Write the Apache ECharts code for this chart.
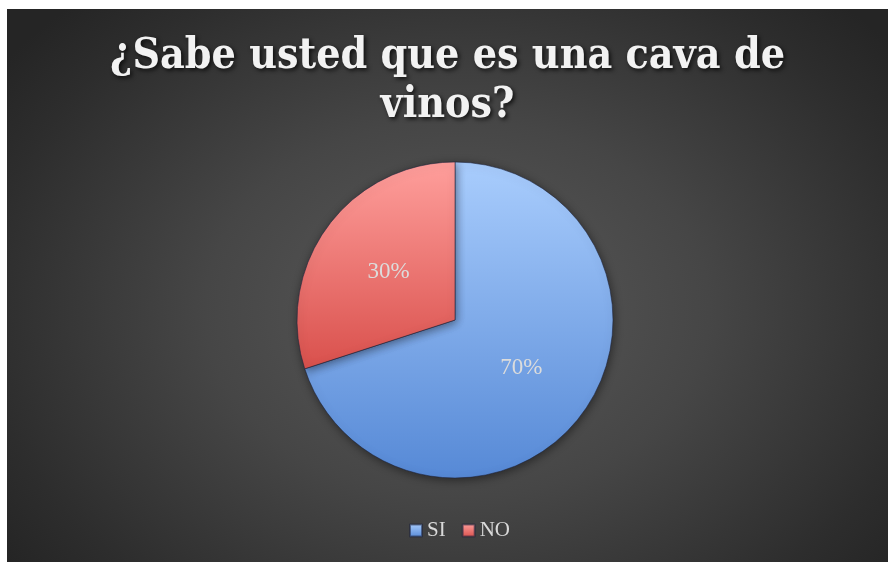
<!DOCTYPE html>
<html>
<head>
<meta charset="utf-8">
<script src="https://cdn.jsdelivr.net/npm/echarts@6/dist/echarts.min.js"></script>
<style>
  html, body { margin: 0; padding: 0; background: #ffffff; width: 888px; height: 562px; overflow: hidden; }
  #chart { position: absolute; left: 7px; top: 9px; width: 881px; height: 553px;
    background: radial-gradient(ellipse 560px 420px at 450px 300px, #5a5a5a 0%, #464646 45%, #2d2d2d 85%, #252525 100%); }
</style>
</head>
<body>
<div id="chart"></div>
<script>
const titleText = '¿Sabe usted que es una cava de\nvinos?';
const categories = ['SI', 'NO'];
const values = [70, 30];

const sliceColors = [
  { top: '#a9cdfd', bottom: '#5689d6' },
  { top: '#ff9f9c', bottom: '#d9504c' }
];

const chart = echarts.init(document.getElementById('chart'), null, { renderer: 'canvas' });

const option = {
  backgroundColor: 'transparent',
  animation: false,
  title: {
    text: titleText,
    left: 'center',
    top: 18,
    padding: [5, 0, 5, 15],
    textStyle: {
      fontFamily: '"DejaVu Serif Condensed", "DejaVu Serif", serif',
      fontWeight: 'bold',
      fontSize: 42.5,
      lineHeight: 49,
      color: '#f2f2f2',
      textShadowColor: 'rgba(0,0,0,0.75)',
      textShadowBlur: 4,
      textShadowOffsetX: 2,
      textShadowOffsetY: 2
    }
  },
  legend: {
    data: categories,
    bottom: 16,
    left: 397,
    padding: 5,
    icon: 'rect',
    itemWidth: 12,
    itemHeight: 12,
    itemGap: 16,
    textStyle: {
      fontFamily: '"Liberation Serif", "DejaVu Serif", serif',
      fontSize: 21,
      color: '#d9d9d9',
      padding: [2, 0, 0, 0]
    }
  },
  series: [{
    type: 'pie',
    center: [448, 311],
    radius: [0, 158],
    startAngle: 90,
    clockwise: true,
    data: categories.map((name, i) => ({
      name: name,
      value: values[i],
      itemStyle: {
        color: {
          type: 'linear', x: 0, y: 0, x2: 0, y2: 1,
          colorStops: [
            { offset: 0, color: sliceColors[i].top },
            { offset: 1, color: sliceColors[i].bottom }
          ]
        }
      }
    })),
    itemStyle: {
      borderColor: 'rgba(30,35,60,0.55)',
      borderWidth: 1,
      shadowBlur: 10,
      shadowColor: 'rgba(0,0,0,0.45)',
      shadowOffsetX: 1,
      shadowOffsetY: 2
    },
    label: {
      show: true,
      position: 'inside',
      formatter: (p) => Math.round(p.percent) + '%',
      fontFamily: '"Liberation Serif", "DejaVu Serif", serif',
      fontSize: 23,
      color: '#dcdcdc'
    },
    labelLine: { show: false },
    emphasis: { disabled: true }
  }]
};

chart.setOption(option);
</script>
</body>
</html>
